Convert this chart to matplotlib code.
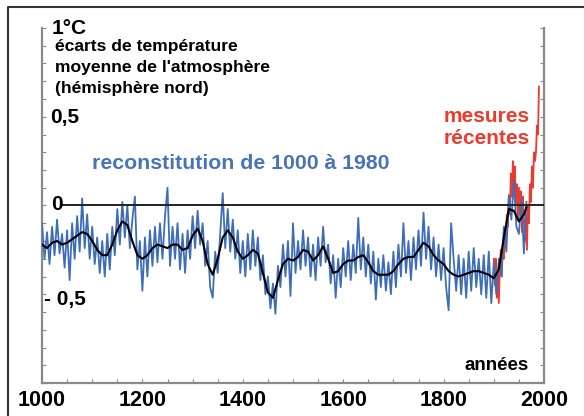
import matplotlib

matplotlib.use("Agg")
import matplotlib.pyplot as plt
from matplotlib.lines import Line2D
from matplotlib.ticker import MultipleLocator

plt.rcParams["font.family"] = ["Liberation Sans", "DejaVu Sans"]
plt.rcParams["font.weight"] = "bold"

W, H = 584, 416

# reconstruction 1000-1965, 5-year steps
recon_start, recon_step = 1000, 5
recon_values = [
    -0.10, -0.30, -0.15, -0.33, -0.12, -0.28, -0.08, -0.27, -0.16, -0.35,
    -0.14, -0.42, -0.10, -0.30, -0.06, -0.26, 0.04, -0.24, -0.05, -0.30,
    -0.12, -0.33, -0.18, -0.38, -0.20, -0.40, -0.16, -0.36, -0.12, -0.28,
    -0.02, -0.22, 0.02, -0.18, 0.00, -0.24, -0.08, 0.05, -0.36, -0.20,
    -0.48, -0.18, -0.40, -0.14, -0.34, -0.12, -0.32, -0.10, -0.30, -0.06,
    0.10, -0.34, -0.12, -0.30, -0.10, -0.36, -0.16, -0.38, -0.14, -0.30,
    -0.06, -0.24, -0.03, -0.22, -0.10, -0.34, -0.20, -0.46, -0.52, -0.26,
    -0.38, -0.16, 0.07, -0.24, -0.02, -0.26, -0.08, -0.30, -0.14, -0.38,
    -0.20, -0.40, -0.16, -0.36, -0.14, -0.34, -0.18, -0.42, -0.28, -0.50,
    -0.40, -0.58, -0.44, -0.61, -0.34, -0.46, -0.22, -0.40, -0.20, -0.51,
    -0.10, -0.38, -0.20, -0.36, -0.14, -0.34, -0.18, -0.40, -0.22, -0.42,
    -0.18, -0.34, -0.12, -0.32, -0.22, -0.44, -0.28, -0.52, -0.30, -0.46,
    -0.24, -0.40, -0.20, -0.42, -0.22, -0.38, -0.07, -0.36, -0.18, -0.40,
    -0.22, -0.44, -0.26, -0.53, -0.30, -0.46, -0.28, -0.48, -0.32, -0.50,
    -0.26, -0.46, -0.22, -0.40, -0.10, -0.38, -0.20, -0.42, -0.18, -0.36,
    -0.14, -0.34, -0.04, -0.30, -0.12, -0.36, -0.18, -0.40, -0.22, -0.42,
    -0.24, -0.46, -0.59, -0.10, -0.30, -0.48, -0.28, -0.50, -0.30, -0.52,
    -0.26, -0.48, -0.24, -0.46, -0.30, -0.50, -0.28, -0.52, -0.26, -0.55,
    -0.32, -0.50, -0.30, -0.40, -0.12, -0.26, 0.06, -0.08, 0.14, -0.12,
    -0.16, 0.04, -0.27, 0.02,
]
recon_years = [recon_start + recon_step * i for i in range(len(recon_values))]

# smoothed reconstruction, 10-year steps
smooth_years = list(range(1000, 1970, 10)) + [1965]
smooth_values = [
    -0.22, -0.24, -0.21, -0.20, -0.22, -0.21, -0.19, -0.17, -0.15, -0.16,
    -0.20, -0.25, -0.28, -0.28, -0.22, -0.14, -0.09, -0.11, -0.20, -0.28,
    -0.30, -0.28, -0.24, -0.22, -0.23, -0.24, -0.22, -0.22, -0.25, -0.24,
    -0.17, -0.13, -0.20, -0.33, -0.39, -0.30, -0.18, -0.14, -0.18, -0.26,
    -0.30, -0.28, -0.25, -0.27, -0.38, -0.49, -0.52, -0.42, -0.33, -0.30,
    -0.31, -0.29, -0.25, -0.26, -0.31, -0.28, -0.23, -0.30, -0.38, -0.37,
    -0.33, -0.31, -0.31, -0.29, -0.28, -0.32, -0.37, -0.39, -0.39, -0.39,
    -0.37, -0.33, -0.30, -0.29, -0.29, -0.25, -0.21, -0.23, -0.28, -0.31,
    -0.33, -0.37, -0.39, -0.40, -0.39, -0.38, -0.37, -0.37, -0.38, -0.39,
    -0.41, -0.36, -0.18, -0.02, -0.03, -0.09, -0.05, -0.01,
]
smooth_years = sorted(smooth_years)

# instrumental measurements, 2-year steps
meas_start, meas_step = 1900, 2
meas_values = [
    -0.30, -0.45, -0.30, -0.52, -0.38, -0.55, -0.35, -0.25, -0.40, -0.22,
    -0.30, -0.15, -0.22, -0.05, -0.12, 0.05, -0.05, 0.18, 0.05, 0.25,
    0.10, 0.22, 0.00, 0.12, -0.08, 0.10, -0.05, 0.08, -0.15, 0.05,
    -0.10, -0.20, -0.05, -0.25, 0.00, -0.10, 0.12, 0.02, 0.22, 0.10,
    0.30, 0.25, 0.30, 0.45, 0.40, 0.67,
]
meas_years = [meas_start + meas_step * i for i in range(len(meas_values))]

x_ticks = [1000, 1200, 1400, 1600, 1800, 2000]

BLUE = "#3f6db8"
BLUE_TXT = "#4a72b8"
RED = "#ec3a2f"
GREY = "#8a8a8a"

fig = plt.figure(figsize=(W / 100, H / 100), dpi=100)
ax = fig.add_axes([42 / W, 1 - 383 / H, (544 - 42) / W, (383 - 28) / H])

ax.plot(meas_years, meas_values, color=RED, linewidth=1.3, zorder=2)
ax.plot(recon_years, recon_values, color=BLUE, linewidth=1.3, zorder=3)
ax.plot(smooth_years, smooth_values, color="black", linewidth=1.5, zorder=4)
ax.axhline(0, xmin=0.04, color="#222222", linewidth=1.4, zorder=5)

ax.set_xlim(1000, 2000)
ax.set_ylim(-1, 1)
ax.spines["top"].set_visible(False)
for side in ("left", "right", "bottom"):
    ax.spines[side].set_color(GREY)
    ax.spines[side].set_linewidth(1.6)

ax.set_xticks(x_ticks)
ax.set_xticklabels([str(t) for t in x_ticks])
ax.xaxis.set_minor_locator(MultipleLocator(50))
ax.yaxis.set_major_locator(MultipleLocator(0.1))
ax.set_yticklabels([])
ax.tick_params(axis="both", which="both", direction="in", length=3,
               width=0.8, color=GREY)
ax.tick_params(axis="y", which="both", left=True, right=True)
ax.tick_params(axis="x", labelsize=15.5, pad=5)
for lbl in ax.get_xticklabels():
    lbl.set_fontweight("bold")


def px(x, y):
    return x / W, 1 - y / H


fig.text(*px(52, 28), "1°C", fontsize=15, va="center", ha="left")
for i, line in enumerate(["écarts de température",
                          "moyenne de l'atmosphère",
                          "(hémisphère nord)"]):
    fig.text(*px(55, 47 + 20.5 * i), line, fontsize=12.6, va="center",
             ha="left")
fig.text(*px(50, 117), "0,5", fontsize=15, va="center", ha="left")
fig.text(*px(51, 205), "0", fontsize=15, va="center", ha="left",
         zorder=6)
fig.text(*px(44, 300), "- 0,5", fontsize=15, va="center", ha="left")
fig.text(*px(92, 163), "reconstitution de 1000 à 1980", fontsize=15.3,
         color=BLUE_TXT, va="center", ha="left")
fig.text(*px(530, 117), "mesures", fontsize=15, color=RED, va="center",
         ha="right")
fig.text(*px(530, 139), "récentes", fontsize=15, color=RED, va="center",
         ha="right")
fig.text(*px(529, 365), "années", fontsize=13.5, va="center", ha="right")

# outer frame (left and top edges)
fig.add_artist(Line2D([8 / W, 8 / W, 1], [0, 1 - 7 / H, 1 - 7 / H],
                      color="#333333", linewidth=1.5,
                      transform=fig.transFigure))

fig.savefig("out.png", dpi=100)
